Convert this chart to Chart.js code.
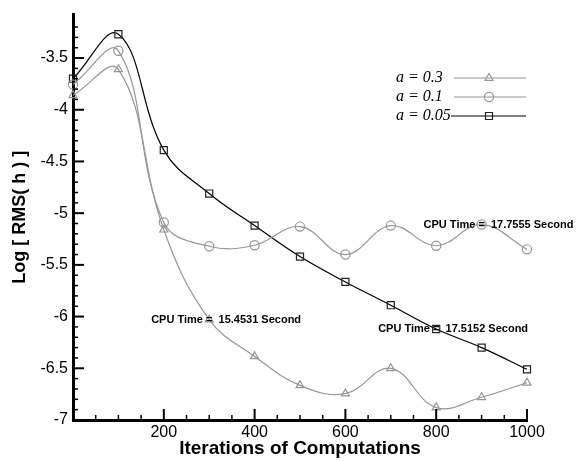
<!DOCTYPE html>
<html>
<head>
<meta charset="utf-8">
<script src="https://cdn.jsdelivr.net/npm/chart.js@4/dist/chart.umd.min.js"></script>
<style>
  html, body { margin: 0; padding: 0; background: #fff; }
  #chart { display: block; }
</style>
</head>
<body>
<canvas id="chart" width="578" height="461"></canvas>
<script>
// --- Data ---
const iterations = [0, 100, 200, 300, 400, 500, 600, 700, 800, 900, 1000];
const rmsA03  = [-3.86, -3.61, -5.16, -6.03, -6.385, -6.665, -6.745, -6.50, -6.88, -6.78, -6.64];
const rmsA01  = [-3.755, -3.43, -5.09, -5.32, -5.31, -5.13, -5.40, -5.12, -5.315, -5.11, -5.35];
const rmsA005 = [-3.70, -3.27, -4.39, -4.81, -5.12, -5.42, -5.665, -5.89, -6.12, -6.30, -6.51];

const seriesLabels = ['a = 0.3', 'a = 0.1', 'a = 0.05'];
const xTickLabels = [200, 400, 600, 800, 1000];
const yTickLabels = [-3.5, -4, -4.5, -5, -5.5, -6, -6.5, -7];

// CPU time notes: [series index, point index, text]
const cpuNotes = [
    [0, 3, '15.4531 Second'],
    [1, 9, '17.7555 Second'],
    [2, 8, '17.5152 Second']
];

const GRAY = 'rgb(150,150,150)';
const toPoints = ys => iterations.map((x, i) => ({ x: x, y: ys[i] }));

// --- Inward tick marks (major + minor) ---
const tickMarks = {
    id: 'tickMarks',
    afterDraw(chart) {
        const ctx = chart.ctx;
        const xs = chart.scales.x, ys = chart.scales.y;
        const area = chart.chartArea;
        ctx.save();
        ctx.strokeStyle = '#000';
        xs.ticks.forEach(t => {
            if (t.value <= 0) return;
            const major = xTickLabels.includes(t.value);
            const px = xs.getPixelForValue(t.value);
            ctx.lineWidth = major ? 2 : 1.5;
            ctx.beginPath();
            ctx.moveTo(px, area.bottom);
            ctx.lineTo(px, area.bottom - (major ? 11 : 5));
            ctx.stroke();
        });
        ys.ticks.forEach(t => {
            const v = t.value;
            if (Math.abs(v * 10 - Math.round(v * 10)) > 1e-6 || v <= -7) return;
            const major = Math.abs(v * 2 - Math.round(v * 2)) < 1e-6;
            const py = ys.getPixelForValue(v);
            ctx.lineWidth = major ? 2 : 1.5;
            ctx.beginPath();
            ctx.moveTo(area.left, py);
            ctx.lineTo(area.left + (major ? 11 : 5), py);
            ctx.stroke();
        });
        ctx.restore();
    }
};

function drawMarker(ctx, style, x, y, color) {
    ctx.save();
    ctx.strokeStyle = color;
    ctx.lineWidth = 1.2;
    ctx.beginPath();
    if (style === 'triangle') {
        const r = 4.6;
        ctx.moveTo(x, y - r);
        ctx.lineTo(x + r * 0.866, y + r * 0.5);
        ctx.lineTo(x - r * 0.866, y + r * 0.5);
        ctx.closePath();
    } else if (style === 'circle') {
        ctx.arc(x, y, 4.6, 0, Math.PI * 2);
    } else {
        ctx.rect(x - 3.5, y - 3.5, 7, 7);
    }
    ctx.stroke();
    ctx.restore();
}

// --- Legend and CPU time notes ---
const notes = {
    id: 'notes',
    afterDraw(chart) {
        const ctx = chart.ctx;
        const xs = chart.scales.x, ys = chart.scales.y;
        ctx.save();
        // legend
        ctx.font = 'italic 16px "Liberation Serif", "Times New Roman", serif';
        ctx.textBaseline = 'middle';
        ctx.fillStyle = '#000';
        chart.data.datasets.forEach((ds, i) => {
            const y = 78 + i * 19;
            ctx.textAlign = 'left';
            ctx.fillText(ds.label, 396, y);
            const x0 = i === 2 ? 451 : 454;
            ctx.strokeStyle = ds.borderColor;
            ctx.lineWidth = 1.2;
            ctx.beginPath();
            ctx.moveTo(x0, y);
            ctx.lineTo(526, y);
            ctx.stroke();
            drawMarker(ctx, ds.pointStyle, 489, y, ds.pointBorderColor);
        });
        // CPU time notes, '=' sits on the marker
        ctx.font = 'bold 11px "Liberation Sans", Arial, sans-serif';
        ctx.fillStyle = '#000';
        ctx.textAlign = 'left';
        cpuNotes.forEach(([si, pi, txt]) => {
            const ds = chart.data.datasets[si];
            const px = xs.getPixelForValue(ds.data[pi].x);
            const py = ys.getPixelForValue(ds.data[pi].y);
            const lead = ctx.measureText('CPU Time ').width + ctx.measureText('=').width / 2;
            ctx.fillText('CPU Time =  ' + txt, px - lead, py);
        });
        ctx.restore();
    }
};

const tickFont = { family: '"Liberation Sans", Arial, sans-serif', size: 16 };
const xTitleFont = { family: '"Liberation Sans", Arial, sans-serif', size: 19, weight: 'bold' };
const yTitleFont = { family: '"Liberation Sans", Arial, sans-serif', size: 18, weight: 'bold' };

new Chart(document.getElementById('chart'), {
    type: 'line',
    data: {
        datasets: [
            {
                label: seriesLabels[0], data: toPoints(rmsA03),
                borderColor: GRAY, borderWidth: 1.2, tension: 0.4,
                pointStyle: 'triangle', pointRadius: 4.6, pointBorderWidth: 1.2,
                pointBorderColor: GRAY, pointBackgroundColor: 'rgba(0,0,0,0)', clip: false
            },
            {
                label: seriesLabels[1], data: toPoints(rmsA01),
                borderColor: GRAY, borderWidth: 1.2, tension: 0.4,
                pointStyle: 'circle', pointRadius: 4.6, pointBorderWidth: 1.2,
                pointBorderColor: GRAY, pointBackgroundColor: 'rgba(0,0,0,0)', clip: false
            },
            {
                label: seriesLabels[2], data: toPoints(rmsA005),
                borderColor: '#000', borderWidth: 1.2, tension: 0.4,
                pointStyle: 'rect', pointRadius: 5, pointBorderWidth: 1.2,
                pointBorderColor: '#222', pointBackgroundColor: 'rgba(0,0,0,0)', clip: false
            }
        ]
    },
    options: {
        responsive: false,
        animation: false,
        layout: { padding: { top: 10, right: 51, left: 0, bottom: 0 } },
        plugins: {
            legend: { display: false },
            tooltip: { enabled: false }
        },
        scales: {
            x: {
                type: 'linear', min: 0, max: 1000,
                afterFit: s => { s.height = 41; },
                grid: { display: false, drawTicks: false },
                border: { display: true, color: '#000', width: 3 },
                ticks: {
                    stepSize: 50, autoSkip: false, maxRotation: 0, padding: 3,
                    color: '#000', font: tickFont,
                    callback: v => xTickLabels.includes(v) ? String(v) : ''
                },
                title: {
                    display: true, text: 'Iterations of Computations', color: '#000',
                    font: xTitleFont, padding: { top: 0, bottom: 1 }
                }
            },
            y: {
                min: -7, max: -3.08,
                afterFit: s => { s.width = 73; },
                grid: { display: false, drawTicks: false },
                border: { display: true, color: '#000', width: 3 },
                ticks: {
                    stepSize: 0.1, autoSkip: false, padding: 5,
                    color: '#000', font: tickFont,
                    callback: v => yTickLabels.some(t => Math.abs(t - v) < 1e-6) ? String(v) : ''
                },
                title: {
                    display: true, text: 'Log [ RMS( h ) ]', color: '#000',
                    font: yTitleFont, padding: { top: 9, bottom: 0 }
                }
            }
        }
    },
    plugins: [tickMarks, notes]
});
</script>
</body>
</html>
